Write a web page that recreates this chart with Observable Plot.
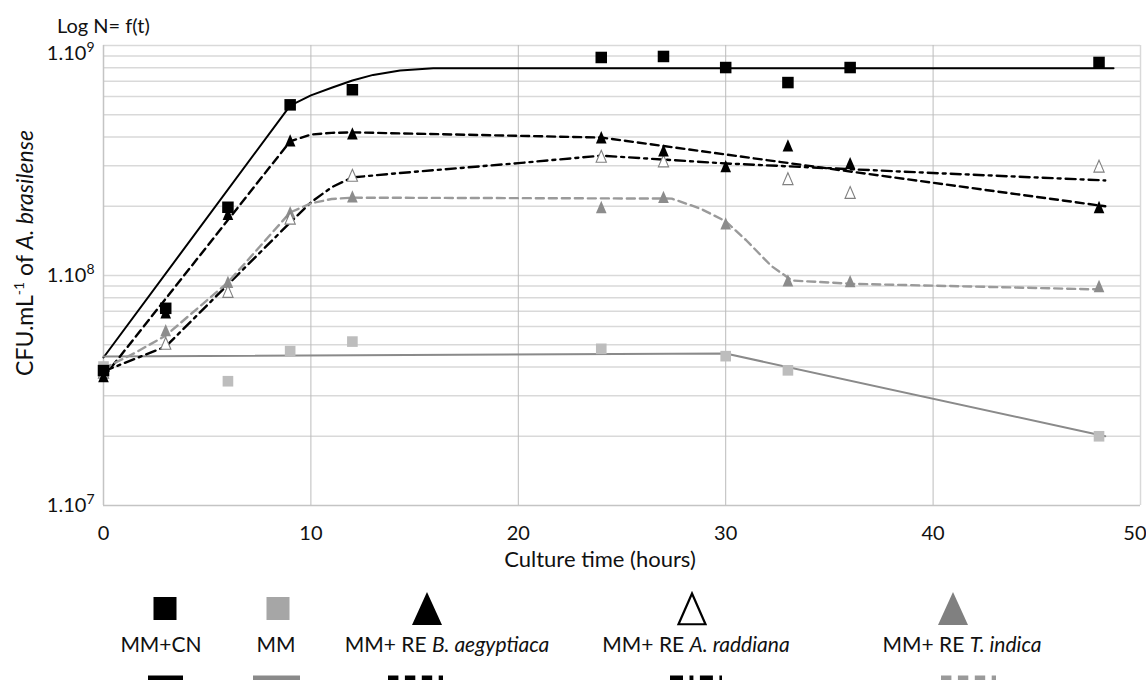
<!DOCTYPE html>
<html><head><meta charset="utf-8">
<script src="https://cdn.jsdelivr.net/npm/d3@7"></script>
<script src="https://cdn.jsdelivr.net/npm/@observablehq/plot@0.6"></script>
<style>
body{margin:0;background:#fff;}
#wrap{position:relative;width:1146px;height:680px;overflow:hidden;font-family:Lato,"Open Sans",sans-serif;color:#111;}
#legend{position:absolute;left:0;top:580px;width:1146px;height:100px;}
.lab{position:absolute;top:52px;font-size:21px;white-space:nowrap;transform:translateX(-50%);line-height:24px;}
</style></head><body><div id="wrap"></div>
<script>
// ---- data ----
const times = [0, 3, 6, 9, 12, 24, 27, 30, 33, 36, 48];
const obsCN   = [3.86e7, 7.2e7, 1.98e8, 5.52e8, 6.42e8, 8.87e8, 8.96e8, 8.02e8, 6.9e8, 8.02e8, 8.44e8];
const obsMM   = [4.02e7, null, 3.47e7, 4.69e7, 5.16e7, 4.80e7, null, 4.46e7, 3.87e7, null, 2.0e7];
const obsBae  = [3.64e7, 6.9e7, 1.85e8, 3.86e8, 4.14e8, 3.98e8, 3.49e8, 2.98e8, 3.67e8, 3.07e8, 1.98e8];
const obsArad = [3.79e7, 5.06e7, 8.5e7, 1.77e8, 2.72e8, 3.29e8, 3.14e8, null, 2.63e8, 2.29e8, 2.98e8];
const obsTind = [3.94e7, 5.77e7, 9.35e7, 1.88e8, 2.2e8, 1.98e8, 2.19e8, 1.68e8, 9.5e7, 9.42e7, 8.98e7];

// fitted curves (time, value)
const fitCNt   = [0, 9, 10, 11, 12, 13, 14.3, 15.9, 48.7];
const fitCNv   = [4.40e7, 5.48e8, 6.07e8, 6.55e8, 7.04e8, 7.45e8, 7.79e8, 7.97e8, 7.97e8];
const fitMMt   = [0, 30, 48.3];
const fitMMv   = [4.45e7, 4.58e7, 2.0e7];
const fitBaet  = [0, 9, 10, 11, 12, 24, 48.3];
const fitBaev  = [3.61e7, 3.83e8, 4.10e8, 4.17e8, 4.19e8, 3.98e8, 2.0e8];
const fitAradt = [0, 3, 9, 10, 11, 12, 14.3, 20, 24, 30, 40, 48.3];
const fitAradv = [3.83e7, 4.91e7, 1.70e8, 2.08e8, 2.42e8, 2.67e8, 2.79e8, 3.08e8, 3.32e8, 3.07e8, 2.79e8, 2.59e8];
const fitTindt = [0, 1.5, 3, 6, 9, 10, 11, 12, 27.4, 28.8, 30, 31, 32.2, 33.2, 36.1, 48.2];
const fitTindv = [3.94e7, 4.6e7, 5.48e7, 9.33e7, 1.88e8, 2.06e8, 2.15e8, 2.18e8, 2.16e8, 1.95e8, 1.72e8, 1.42e8, 1.10e8, 9.51e7, 9.20e7, 8.69e7];

const xTicks = [0, 10, 20, 30, 40, 50];
const yTicks = [1e7, 1e8, 1e9];
const yTickBase = "1.10";
const yTickExp = ["7", "8", "9"];
const xVGrid = [10, 20, 30, 40];

const seriesKeys  = ["cn", "mm", "bae", "arad", "tind"];
const seriesPre   = ["MM+CN", "MM", "MM+ RE ", "MM+ RE ", "MM+ RE "];
const seriesItal  = ["", "", "B. aegyptiaca", "A. raddiana", "T. indica"];

// ---- tables ----
const obsArrays = {cn: obsCN, mm: obsMM, bae: obsBae, arad: obsArad, tind: obsTind};
const fitArrays = {cn: [fitCNt, fitCNv], mm: [fitMMt, fitMMv], bae: [fitBaet, fitBaev], arad: [fitAradt, fitAradv], tind: [fitTindt, fitTindv]};
const obs = k => times.map((t, i) => ({t, v: obsArrays[k][i]})).filter(d => d.v != null);
const fit = k => fitArrays[k][0].map((t, i) => ({t, v: fitArrays[k][1][i]}));

const gridVals = [];
for (const d of [1e7, 1e8]) for (let k = 2; k <= 10; k++) gridVals.push(k * d);

const tri = {draw(ctx, size) { const r = Math.sqrt(size / Math.PI); ctx.moveTo(0, -1.15 * r); ctx.lineTo(0.95 * r, 1.05 * r); ctx.lineTo(-0.95 * r, 1.05 * r); ctx.closePath(); }};

const lineStyle = {
  cn:   {stroke: "#000", strokeWidth: 2},
  mm:   {stroke: "#8a8a8a", strokeWidth: 2},
  bae:  {stroke: "#000", strokeWidth: 2.4, strokeDasharray: "8,5"},
  arad: {stroke: "#000", strokeWidth: 2.4, strokeDasharray: "10,5,3,5"},
  tind: {stroke: "#9a9a9a", strokeWidth: 2.4, strokeDasharray: "8,5"}
};

const FONT = "Lato, 'Open Sans', sans-serif";
const chart = Plot.plot({
  width: 1146, height: 580,
  marginLeft: 103, marginRight: 6, marginTop: 45, marginBottom: 75,
  style: {fontFamily: FONT, fontSize: "20px", color: "#111", background: "transparent"},
  x: {domain: [0, 50], axis: null},
  y: {type: "log", domain: [1e7, 1e9], axis: null},
  marks: [
    Plot.ruleY(gridVals, {stroke: "#d9d9d9", strokeWidth: 1.5}),
    Plot.ruleX(xVGrid, {stroke: "#bcbcbc", strokeWidth: 1}),
    Plot.ruleX([50], {stroke: "#d9d9d9", strokeWidth: 1.5}),
    Plot.ruleX([0], {stroke: "#c4c4c4", strokeWidth: 1.5}),
    Plot.ruleY([1e7], {stroke: "#c4c4c4", strokeWidth: 1.5}),
    Plot.text(xTicks.slice(0, -1), {x: d => d, y: 1e7, dy: 28, text: d => String(d), fontSize: 20}),
    Plot.text(xTicks.slice(-1), {x: d => d, y: 1e7, dy: 28, dx: 6, textAnchor: "end", text: d => String(d), fontSize: 20}),
    Plot.text(yTicks.slice(0, 2), {x: 0, y: d => d, dx: -9, textAnchor: "end", text: (d, i) => yTickBase + "|" + yTickExp[i], fontSize: 20}),
    Plot.text(yTicks.slice(2), {x: 0, y: d => d, dx: -9, dy: 8, textAnchor: "end", text: () => yTickBase + "|" + yTickExp[2], fontSize: 20}),
    ...seriesKeys.map(k => Plot.line(fit(k), {x: "t", y: "v", ...lineStyle[k]})),
    Plot.dot(obs("tind"), {x: "t", y: "v", symbol: tri, r: 5.6, fill: "#8c8c8c", stroke: "none"}),
    Plot.dot(obs("arad"), {x: "t", y: "v", symbol: tri, r: 5.4, fill: "white", stroke: "#808080", strokeWidth: 1.1}),
    Plot.dot(obs("bae"), {x: "t", y: "v", symbol: tri, r: 5.6, fill: "#000", stroke: "none"}),
    Plot.dot(obs("mm"), {x: "t", y: "v", symbol: "square", r: 6, fill: "#bdbdbd", stroke: "none"}),
    Plot.dot(obs("cn"), {x: "t", y: "v", symbol: "square", r: 6.5, fill: "#000", stroke: "none"})
  ]
});

const wrap = document.getElementById("wrap");
wrap.appendChild(chart);
const svg = d3.select(chart);

// superscript exponents on y tick labels
svg.selectAll("text").each(function() {
  const s = this.textContent;
  if (s.indexOf("|") > 0) {
    const [base, exp] = s.split("|");
    const el = d3.select(this);
    el.text(base);
    el.append("tspan").attr("font-size", 14).attr("dy", "-0.55em").text(exp);
  }
});

svg.append("text").attr("x", 57).attr("y", 33).attr("text-anchor", "start").attr("font-size", 20).attr("fill", "#111").text("Log N= f(t)");
svg.append("text").attr("x", 600).attr("y", 567).attr("text-anchor", "middle").attr("font-size", 22).attr("fill", "#111").text("Culture time (hours)");
const yl = svg.append("text").attr("transform", "translate(33,253) rotate(-90)").attr("text-anchor", "middle").attr("font-size", 23).attr("fill", "#111");
yl.append("tspan").text("CFU.mL");
yl.append("tspan").attr("font-size", 14).attr("dy", -9).text("-1");
yl.append("tspan").attr("dy", 9).text(" of ");
yl.append("tspan").attr("font-style", "italic").text("A. brasilense");

// ---- legend ----
const legendX    = [165, 278, 427, 692, 953];
const labelX     = [161, 276, 447, 696, 962];
const lineX      = [[148, 183], [253, 300], [388, 443], [670, 722], [941, 996]];
const legend = d3.select(wrap).append("div").attr("id", "legend");
const lsvg = legend.append("svg").attr("width", 1146).attr("height", 100).style("position", "absolute").style("left", 0).style("top", 0);
const sy = 28.5;
lsvg.append("rect").attr("x", legendX[0] - 11.5).attr("y", sy - 11.5).attr("width", 23).attr("height", 23).attr("fill", "#000");
lsvg.append("rect").attr("x", legendX[1] - 11.5).attr("y", sy - 11.5).attr("width", 23).attr("height", 23).attr("fill", "#a6a6a6");
const triPath = (cx, inset) => `M${cx},${12 + inset}L${cx + 15 - inset},${45 - inset / 2}L${cx - 15 + inset},${45 - inset / 2}Z`;
lsvg.append("path").attr("d", triPath(legendX[2], 0)).attr("fill", "#000");
lsvg.append("path").attr("d", triPath(legendX[3], 1.5)).attr("fill", "#fff").attr("stroke", "#000").attr("stroke-width", 2.2);
lsvg.append("path").attr("d", triPath(legendX[4], 0)).attr("fill", "#808080");
seriesKeys.forEach((k, i) => {
  const st = lineStyle[k];
  lsvg.append("line").attr("x1", lineX[i][0]).attr("x2", lineX[i][1]).attr("y1", 98).attr("y2", 98)
    .attr("stroke", st.stroke).attr("stroke-width", 5).attr("stroke-dasharray", st.strokeDasharray ? st.strokeDasharray.split(",").map(v => +v * 1.3).join(",") : null);
  const lab = legend.append("div").attr("class", "lab").style("left", labelX[i] + "px");
  lab.append("span").text(seriesPre[i]);
  if (seriesItal[i]) lab.append("i").text(seriesItal[i]);
});
</script></body></html>
